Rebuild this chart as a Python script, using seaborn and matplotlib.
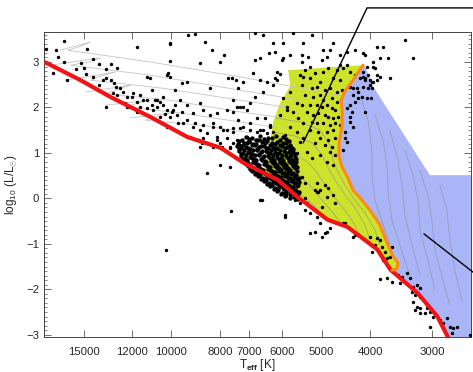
import matplotlib
matplotlib.use("Agg")
import matplotlib.pyplot as plt
import numpy as np
import pandas as pd
import seaborn as sns
from matplotlib.ticker import FixedLocator, MultipleLocator, NullLocator

# stars: (log10 Teff, log10 L/Lsun)
field_hot = [
    (4.252, 3.28), (4.216, 3.46), (4.232, 3.26), (4.228, 3.11), (4.216, 3.00), (4.238, 2.76),
    (4.210, 2.60), (4.170, 3.29), (4.068, 3.33), (4.002, 3.39), (4.002, 3.02), (4.182, 2.98),
    (4.158, 3.07), (4.146, 2.96), (4.132, 2.85), (4.122, 2.96), (4.108, 2.87), (4.192, 2.85),
    (4.176, 2.87), (4.172, 2.74), (4.158, 2.67), (4.138, 2.60), (4.132, 2.65), (4.122, 2.60),
    (4.116, 2.54), (4.102, 2.43), (4.112, 2.45), (4.146, 2.49), (4.148, 2.38), (4.128, 2.27),
    (4.118, 2.32), (4.108, 2.27), (4.096, 2.34), (4.088, 2.23), (4.076, 2.32), (4.062, 2.27),
    (4.092, 2.10), (4.082, 2.01), (4.068, 2.12), (4.062, 2.01), (4.048, 2.16), (4.038, 2.05),
    (4.028, 2.01), (4.032, 2.16), (4.022, 2.12), (4.016, 2.05), (4.008, 1.94), (4.012, 1.85),
    (3.998, 1.90), (3.988, 1.83), (4.002, 1.79), (4.132, 2.01), (4.048, 2.67), (4.042, 2.65),
    (4.008, 2.71), (4.002, 2.67), (3.992, 2.05), (3.942, 2.98), (3.932, 3.44), (3.918, 3.26),
    (3.952, 3.61), (3.966, 3.59), (4.002, 3.42), (3.902, 3.00), (3.894, 3.15), (3.886, 2.65),
    (3.878, 2.65), (3.870, 2.60), (3.866, 2.43), (3.922, 2.43), (3.968, 2.56), (3.978, 2.54),
    (3.992, 2.38), (4.006, 2.76), (3.968, 2.05), (3.942, 2.10), (3.982, 2.16), (3.996, 1.94),
    (3.978, 1.90), (3.956, 1.88), (3.936, 1.94), (3.922, 1.83), (3.908, 1.88), (3.888, 1.94),
    (3.876, 1.90), (3.862, 2.01), (3.968, 1.72), (3.952, 1.66), (3.936, 1.61), (3.916, 1.66),
    (3.902, 1.57), (3.888, 1.50), (3.876, 1.46), (3.928, 1.44), (3.908, 1.35), (3.942, 1.50),
    (3.986, 1.66), (4.008, 1.57), (4.022, 1.79), (4.036, 1.94), (4.028, 2.16), (4.016, 2.23),
    (4.038, 2.38), (4.056, 2.16), (3.928, 0.56), (3.902, 0.73), (3.882, 0.69), (3.942, 1.13),
    (3.928, 1.22), (3.916, 1.13), (3.902, 1.22), (3.882, 1.13), (3.868, 1.28), (4.048, 1.99),
    (4.088, 2.01), (4.068, 1.90), (4.078, 2.23), (3.976, 1.66), (3.956, 1.57), (3.916, 1.57),
    (3.896, 1.50), (3.876, 1.55), (3.856, 1.57), (3.842, 1.50), (3.962, 1.35), (3.936, 1.33),
    (3.908, 1.28), (3.888, 1.33), (3.848, 1.35), (3.938, 1.22), (3.918, 1.17), (3.898, 1.13),
    (3.882, 1.11), (3.862, 1.17), (3.842, 1.24), (3.822, 1.28), (3.808, 1.44), (3.822, 1.50),
    (3.802, 1.57), (3.880, -0.28), (4.010, -1.13), (3.822, -0.04), (3.772, -0.41),
]

field_upper = [
    (3.832, 3.64), (3.816, 3.59), (3.796, 3.42), (3.776, 3.42), (3.756, 3.64), (3.736, 3.42),
    (3.718, 3.59), (3.804, 3.20), (3.792, 3.22), (3.778, 3.04), (3.776, 3.09), (3.762, 3.15),
    (3.738, 3.15), (3.726, 3.11), (3.738, 3.00), (3.832, 3.04), (3.822, 3.09), (3.696, 3.26),
    (3.682, 3.26), (3.676, 3.42), (3.698, 3.04), (3.688, 3.11), (3.662, 3.15), (3.648, 3.22),
    (3.632, 3.26), (3.616, 3.20), (3.612, 3.15), (3.588, 3.33), (3.576, 3.33), (3.596, 3.00),
    (3.608, 2.89), (3.616, 2.78), (3.606, 2.71), (3.598, 2.56), (3.588, 2.60), (3.562, 2.65),
    (3.532, 3.48), (3.516, 3.09), (3.616, 2.67), (3.596, 2.89), (3.836, 2.76), (3.856, 2.56),
    (3.822, 2.60), (3.808, 2.56), (3.788, 2.78), (3.782, 2.74), (3.796, 2.49), (3.816, 2.34),
    (3.832, 2.23), (3.842, 2.10), (3.856, 2.01), (3.868, 2.01), (3.876, 2.16), (3.866, 1.72),
    (3.848, 1.94), (3.862, 1.55), (3.842, 1.66), (3.828, 1.77), (3.812, 1.77), (3.802, 1.61),
    (3.816, 1.50), (3.828, 1.46), (3.796, 1.46), (3.782, 1.83), (3.768, 2.01), (3.776, 1.22),
    (3.762, 0.95), (3.748, 1.00), (3.742, 1.24), (3.876, 1.22),
]

giants = [
    (3.736, 2.67), (3.722, 2.65), (3.702, 2.56), (3.696, 2.78), (3.686, 2.87), (3.668, 2.82),
    (3.656, 2.87), (3.648, 2.93), (3.676, 2.65), (3.662, 2.60), (3.738, 2.49), (3.718, 2.43),
    (3.708, 2.45), (3.692, 2.38), (3.682, 2.43), (3.668, 2.34), (3.658, 2.38), (3.732, 2.27),
    (3.716, 2.23), (3.702, 2.27), (3.696, 2.16), (3.678, 2.21), (3.668, 2.12), (3.722, 2.05),
    (3.708, 2.05), (3.698, 2.01), (3.688, 2.05), (3.678, 1.99), (3.672, 1.94), (3.728, 1.90),
    (3.716, 1.83), (3.706, 1.88), (3.692, 1.83), (3.686, 1.79), (3.676, 1.77), (3.666, 1.79),
    (3.718, 1.68), (3.708, 1.66), (3.696, 1.66), (3.682, 1.61), (3.672, 1.66), (3.736, 1.66),
    (3.746, 1.77), (3.756, 1.90), (3.748, 2.10), (3.738, 2.05), (3.762, 1.57), (3.722, 1.50),
    (3.706, 1.46), (3.688, 1.46), (3.676, 1.50), (3.702, 1.33), (3.686, 1.28), (3.672, 1.33),
    (3.712, 1.22), (3.692, 1.17), (3.678, 1.13), (3.736, 1.33), (3.748, 1.46), (3.768, 1.94),
    (3.776, 2.21), (3.762, 2.34), (3.772, 1.39), (3.758, 1.11), (3.728, 1.02), (3.702, 0.95),
    (3.682, 1.02), (3.672, 0.95), (3.718, 0.89), (3.688, 0.80), (3.676, 0.73), (3.662, 1.61),
    (3.648, 1.99), (3.636, 2.27), (3.628, 2.43), (3.642, 2.45), (3.612, 2.65), (3.602, 2.49),
    (3.626, 2.21), (3.638, 1.90), (3.652, 1.46), (3.648, 1.24), (3.642, 1.68), (3.662, 2.93),
    (3.722, 2.89), (3.732, 2.82), (3.712, 2.76), (3.742, 2.71), (3.788, 2.60), (3.792, 2.65),
    (3.642, 2.78), (3.632, 2.71), (3.622, 2.65), (3.612, 2.60), (3.602, 2.60), (3.596, 2.56),
    (3.616, 2.45), (3.606, 2.43), (3.636, 2.43), (3.626, 2.34), (3.618, 2.23), (3.608, 2.21),
    (3.632, 2.12), (3.642, 2.05), (3.612, 1.90), (3.642, 1.79), (3.636, 1.57), (3.652, 1.33),
    (3.656, 1.06), (3.588, 2.71), (3.582, 2.67), (3.592, 2.87), (3.582, 3.09), (3.566, 3.09),
    (3.598, 2.43), (3.600, 2.21),
]

clump = [
    (3.850, 1.36), (3.838, 1.32), (3.822, 1.38), (3.806, 1.33), (3.790, 1.37), (3.776, 1.34),
    (3.864, 1.27), (3.855, 1.22), (3.846, 1.25), (3.836, 1.20), (3.827, 1.28), (3.818, 1.23),
    (3.808, 1.26), (3.799, 1.21), (3.788, 1.25), (3.776, 1.22), (3.765, 1.27),
    (3.868, 1.16), (3.860, 1.11), (3.851, 1.14), (3.842, 1.09), (3.833, 1.17), (3.824, 1.12),
    (3.815, 1.15), (3.806, 1.10), (3.797, 1.14), (3.788, 1.11), (3.778, 1.16), (3.768, 1.12),
    (3.760, 1.14),
    (3.864, 1.05), (3.856, 1.00), (3.847, 1.03), (3.838, 0.98), (3.829, 1.06), (3.820, 1.01),
    (3.811, 1.04), (3.802, 0.99), (3.793, 1.03), (3.784, 1.00), (3.775, 1.05), (3.765, 1.01),
    (3.756, 1.03),
    (3.861, 0.94), (3.852, 0.89), (3.843, 0.92), (3.834, 0.87), (3.825, 0.95), (3.816, 0.90),
    (3.807, 0.93), (3.798, 0.88), (3.789, 0.92), (3.780, 0.89), (3.771, 0.94), (3.762, 0.90),
    (3.753, 0.92),
    (3.855, 0.83), (3.846, 0.78), (3.837, 0.81), (3.828, 0.76), (3.819, 0.84), (3.810, 0.79),
    (3.801, 0.82), (3.792, 0.77), (3.783, 0.81), (3.774, 0.78), (3.765, 0.83), (3.756, 0.79),
    (3.750, 0.81),
    (3.847, 0.72), (3.838, 0.67), (3.829, 0.70), (3.820, 0.65), (3.811, 0.73), (3.802, 0.68),
    (3.793, 0.71), (3.784, 0.66), (3.775, 0.70), (3.766, 0.67), (3.757, 0.72), (3.748, 0.68),
    (3.838, 0.61), (3.829, 0.56), (3.820, 0.59), (3.811, 0.54), (3.802, 0.62), (3.793, 0.57),
    (3.784, 0.60), (3.775, 0.55), (3.766, 0.59), (3.757, 0.56), (3.748, 0.60),
    (3.826, 0.50), (3.817, 0.45), (3.808, 0.48), (3.799, 0.43), (3.790, 0.51), (3.781, 0.46),
    (3.772, 0.49), (3.763, 0.44), (3.754, 0.48), (3.745, 0.45),
    (3.814, 0.39), (3.805, 0.34), (3.796, 0.37), (3.787, 0.32), (3.778, 0.40), (3.769, 0.35),
    (3.760, 0.38), (3.751, 0.33), (3.744, 0.37),
    (3.802, 0.28), (3.793, 0.23), (3.784, 0.26), (3.775, 0.21), (3.766, 0.29), (3.757, 0.24),
    (3.748, 0.27),
    (3.788, 0.17), (3.779, 0.12), (3.770, 0.15), (3.761, 0.10), (3.752, 0.18), (3.745, 0.13),
    (3.772, 0.06), (3.763, 0.01), (3.754, 0.04), (3.746, -0.01),
]

clump_core = [
    (3.858, 1.29), (3.844, 1.31), (3.830, 1.28), (3.814, 1.30), (3.798, 1.32), (3.783, 1.29),
    (3.770, 1.31),
    (3.866, 1.20), (3.857, 1.17), (3.848, 1.21), (3.839, 1.18), (3.830, 1.19), (3.821, 1.16),
    (3.812, 1.21), (3.803, 1.18), (3.793, 1.20), (3.782, 1.17), (3.771, 1.21), (3.762, 1.18),
    (3.864, 1.09), (3.855, 1.06), (3.846, 1.10), (3.837, 1.07), (3.828, 1.08), (3.819, 1.05),
    (3.810, 1.10), (3.801, 1.07), (3.792, 1.09), (3.783, 1.06), (3.773, 1.10), (3.763, 1.07),
    (3.756, 1.09),
    (3.860, 0.98), (3.851, 0.95), (3.842, 0.99), (3.833, 0.96), (3.824, 0.97), (3.815, 0.94),
    (3.806, 0.99), (3.797, 0.96), (3.788, 0.98), (3.779, 0.95), (3.770, 0.99), (3.760, 0.96),
    (3.752, 0.98),
    (3.857, 0.87), (3.848, 0.84), (3.839, 0.88), (3.830, 0.85), (3.821, 0.86), (3.812, 0.83),
    (3.803, 0.88), (3.794, 0.85), (3.785, 0.87), (3.776, 0.84), (3.767, 0.88), (3.758, 0.85),
    (3.750, 0.87),
    (3.851, 0.76), (3.842, 0.73), (3.833, 0.77), (3.824, 0.74), (3.815, 0.75), (3.806, 0.72),
    (3.797, 0.77), (3.788, 0.74), (3.779, 0.76), (3.770, 0.73), (3.761, 0.77), (3.752, 0.74),
    (3.843, 0.65), (3.834, 0.62), (3.825, 0.66), (3.816, 0.63), (3.807, 0.64), (3.798, 0.61),
    (3.789, 0.66), (3.780, 0.63), (3.771, 0.65), (3.762, 0.62), (3.753, 0.66),
    (3.832, 0.54), (3.823, 0.51), (3.814, 0.55), (3.805, 0.52), (3.796, 0.53), (3.787, 0.50),
    (3.778, 0.55), (3.769, 0.52), (3.760, 0.54), (3.751, 0.51),
    (3.820, 0.43), (3.811, 0.40), (3.802, 0.44), (3.793, 0.41), (3.784, 0.42), (3.775, 0.39),
    (3.766, 0.44), (3.757, 0.41), (3.748, 0.43),
    (3.808, 0.32), (3.799, 0.29), (3.790, 0.33), (3.781, 0.30), (3.772, 0.31), (3.763, 0.28),
    (3.754, 0.33), (3.746, 0.30),
    (3.795, 0.21), (3.786, 0.18), (3.777, 0.22), (3.768, 0.19), (3.759, 0.20), (3.750, 0.17),
    (3.780, 0.10), (3.771, 0.07), (3.762, 0.11), (3.753, 0.08), (3.746, 0.09),
]

dwarfs = [
    (3.798, 0.29), (3.788, 0.18), (3.776, 0.12), (3.762, 0.07), (3.752, -0.04), (3.742, -0.10),
    (3.732, -0.26), (3.722, -0.32), (3.708, -0.41), (3.702, -0.54), (3.688, -0.74), (3.692, -0.76),
    (3.772, -0.37), (3.818, -0.04), (3.708, 0.14), (3.702, 0.18), (3.688, 0.03), (3.676, 0.07),
    (3.652, -0.54), (3.632, -0.81), (3.612, -0.92), (3.592, -1.03), (3.598, -1.18), (3.582, -0.92),
    (3.578, -1.07), (3.572, -1.18), (3.568, -1.31), (3.558, -1.07), (3.576, -1.36), (3.582, -1.77),
    (3.558, -1.84), (3.568, -1.75), (3.546, -1.69), (3.538, -1.73), (3.536, -1.80), (3.528, -1.64),
    (3.522, -1.75), (3.542, -1.86), (3.516, -1.95), (3.508, -1.91), (3.502, -1.97), (3.518, -2.06),
    (3.512, -2.13), (3.502, -2.17), (3.516, -2.28), (3.508, -2.39), (3.512, -2.46), (3.502, -2.41),
    (3.488, -2.41), (3.482, -2.50), (3.492, -2.52), (3.476, -2.61), (3.502, -2.52), (3.482, -2.83),
    (3.462, -2.68), (3.456, -2.74), (3.448, -2.63), (3.442, -2.83), (3.436, -2.85), (3.428, -2.83),
    (3.438, -2.96), (3.402, -3.01), (3.722, -0.76), (3.712, -0.74), (3.698, -0.85), (3.682, -0.65),
    (3.712, 0.18), (3.706, 0.14), (3.692, 0.29), (3.686, 0.23), (3.672, -0.10), (3.698, -0.19),
    (3.732, 0.01), (3.728, -0.10), (3.656, -0.54), (3.636, -0.85), (3.602, -0.85), (3.588, -0.87),
    (3.562, -1.29), (3.576, -1.31), (3.708, 0.34), (3.738, 0.47), (3.732, 0.34),
]

# zero-age main sequence (red)
zams = [
    (4.254, 3.00), (4.182, 2.60), (4.122, 2.23), (4.042, 1.79), (3.968, 1.35), (3.901, 1.11),
    (3.855, 0.78), (3.815, 0.56), (3.787, 0.41), (3.747, 0.03), (3.687, -0.47), (3.647, -0.63),
    (3.607, -0.96), (3.587, -1.13), (3.561, -1.57), (3.507, -2.08), (3.467, -2.60), (3.445, -3.07),
    (3.431, -3.29),
]

# orange boundary
boundary = [
    (3.616, 2.93), (3.636, 2.60), (3.652, 2.36), (3.660, 2.16), (3.658, 1.94), (3.658, 1.61),
    (3.664, 1.22), (3.664, 0.91), (3.658, 0.69), (3.648, 0.49), (3.636, 0.18), (3.618, -0.04),
    (3.602, -0.26), (3.582, -0.59), (3.568, -0.98), (3.556, -1.27), (3.546, -1.42), (3.548, -1.55),
    (3.558, -1.58),
]

yellow_top_left = [(3.766, 2.82)]
yellow_left_edge = [(3.815, 0.56), (3.810, 0.84), (3.802, 1.28), (3.796, 1.68), (3.782, 2.10),
                    (3.762, 2.47)]
blue_right_edge = [(3.380, -3.40), (3.380, 0.51), (3.482, 0.51), (3.598, 2.50), (3.612, 2.91)]

evol_tracks = [
    [(4.222, 3.26), (4.162, 3.44), (4.186, 3.33), (4.208, 3.26), (4.042, 3.00), (3.862, 2.67),
     (3.742, 2.43), (3.662, 2.27)],
    [(4.242, 2.93), (4.142, 3.09), (4.166, 3.00), (4.202, 2.93), (4.042, 2.71), (3.862, 2.38),
     (3.742, 2.16)],
    [(4.212, 2.60), (4.112, 2.78), (4.142, 2.69), (4.162, 2.60), (4.022, 2.43), (3.862, 2.16),
     (3.762, 1.99)],
    [(4.172, 2.34), (4.082, 2.49), (4.112, 2.38), (4.132, 2.30), (4.002, 2.16), (3.862, 1.90),
     (3.772, 1.77)],
    [(4.132, 2.05), (4.042, 2.16), (4.072, 2.08), (4.092, 2.01), (3.982, 1.88), (3.862, 1.68),
     (3.782, 1.55)],
    [(4.082, 1.77), (4.002, 1.88), (4.032, 1.79), (4.052, 1.72), (3.942, 1.61), (3.842, 1.44)],
]

pms_tracks = [
    [(3.792, 1.77), (3.742, 1.68), (3.702, 1.50), (3.682, 1.17), (3.676, 0.84), (3.666, 0.58),
     (3.652, 0.29), (3.632, -0.04), (3.612, -0.32), (3.592, -0.70), (3.582, -1.03)],
    [(3.798, 1.46), (3.752, 1.37), (3.718, 1.22), (3.698, 0.95), (3.686, 0.67), (3.672, 0.40),
     (3.652, 0.07), (3.632, -0.21), (3.612, -0.59), (3.602, -0.92)],
    [(3.806, 1.11), (3.762, 1.02), (3.732, 0.84), (3.712, 0.62), (3.696, 0.36), (3.676, 0.07),
     (3.656, -0.21), (3.636, -0.52), (3.622, -0.81)],
    [(3.812, 0.78), (3.772, 0.67), (3.742, 0.49), (3.718, 0.23), (3.698, -0.04), (3.676, -0.32),
     (3.656, -0.61)],
    [(3.792, 0.36), (3.752, 0.18), (3.726, -0.04), (3.702, -0.30), (3.682, -0.52)],
    [(3.622, 2.27), (3.606, 1.72), (3.598, 1.06), (3.598, 0.51), (3.592, -0.04), (3.572, -0.70),
     (3.552, -1.36)],
    [(3.592, 1.83), (3.576, 1.28), (3.568, 0.73), (3.566, 0.18), (3.558, -0.48), (3.536, -1.25),
     (3.522, -1.69)],
    [(3.562, 1.50), (3.546, 0.84), (3.538, 0.29), (3.532, -0.37), (3.518, -1.03), (3.502, -1.69)],
    [(3.532, 1.06), (3.516, 0.51), (3.506, -0.04), (3.502, -0.70), (3.486, -1.36), (3.472, -2.02)],
    [(3.502, 0.62), (3.486, 0.07), (3.478, -0.48), (3.472, -1.14), (3.456, -1.80), (3.442, -2.35)],
    [(3.462, 0.29), (3.448, -0.26), (3.442, -0.92), (3.432, -1.58), (3.418, -2.24)],
]

pointer_lines = [
    [(3.736, 1.22), (3.608, 4.19), (3.382, 4.19)],
    [(3.494, -0.78), (3.382, -1.74)],
]

x_ticks = [15000, 12000, 10000, 8000, 7000, 6000, 5000, 4000, 3000]


def xy(points):
    arr = np.array(points)
    return 10 ** arr[:, 0], arr[:, 1]


sns.set_style("ticks")
plt.rcParams['font.family'] = ['Liberation Sans', 'DejaVu Sans']
plt.rcParams['mathtext.fontset'] = 'custom'
plt.rcParams['mathtext.rm'] = 'Liberation Sans'
plt.rcParams['mathtext.it'] = 'Liberation Sans'
plt.rcParams['mathtext.bf'] = 'Liberation Sans:bold'

fig = plt.figure(figsize=(4.73, 3.72), dpi=100)
ax = fig.add_axes([44 / 473, 35 / 372, 427 / 473, 305 / 372])
ax.set_xscale('log')

# shaded regions
red_below_tip = [p for p in zams if p[0] < 3.56]
blue_poly = boundary + red_below_tip + blue_right_edge
bx, by = xy(blue_poly)
ax.fill(bx, by, color='#a9b5f6', lw=0, zorder=1)

red_above_tip = [p for p in zams if 3.56 <= p[0] <= 3.815][::-1]
yellow_poly = yellow_top_left + boundary + red_above_tip + yellow_left_edge
yx, yy = xy(yellow_poly)
ax.fill(yx, yy, color='#cde22b', lw=0, zorder=1)

for tr in evol_tracks:
    tx, ty = xy(tr)
    ax.plot(tx, ty, color='#c4c4c4', lw=0.6, zorder=2)
for tr in pms_tracks:
    tx, ty = xy(tr)
    ax.plot(tx, ty, color='#8f8f99', lw=0.5, alpha=0.8, zorder=2)

groups = {'field_hot': field_hot, 'field_upper': field_upper, 'giants': giants,
          'clump': clump + clump_core, 'dwarfs': dwarfs}
frames = []
for name, pts in groups.items():
    gx, gy = xy(pts)
    frames.append(pd.DataFrame({'teff': gx, 'logl': gy, 'group': name}))
stars = pd.concat(frames, ignore_index=True)

sns.scatterplot(data=stars[stars.group != 'clump'], x='teff', y='logl', color='black',
                s=6, linewidth=0, ax=ax, zorder=3, legend=False)
sns.scatterplot(data=stars[stars.group == 'clump'], x='teff', y='logl', color='black',
                s=10, linewidth=0, ax=ax, zorder=3, legend=False)

zx, zy = xy(zams)
ax.plot(zx, zy, color='#f01414', lw=3, zorder=4, solid_capstyle='butt')
ox, oy = xy(boundary)
ax.plot(ox, oy, color='#ff8a12', lw=2.2, zorder=4)

for ln in pointer_lines:
    lx, ly = xy(ln)
    ax.plot(lx, ly, color='black', lw=1.0, zorder=5, clip_on=False)

ax.set_xlim(18000, 2510)
ax.set_ylim(-3.05, 3.66)

ax.xaxis.set_major_locator(FixedLocator(x_ticks))
ax.xaxis.set_minor_locator(NullLocator())
ax.set_xticklabels([str(t) for t in x_ticks])
ax.yaxis.set_major_locator(MultipleLocator(1))
ax.yaxis.set_minor_locator(MultipleLocator(0.1))

ax.tick_params(axis='both', which='major', direction='in', top=True, right=True,
               length=5, width=0.6, color='#555555', labelsize=8.2)
ax.tick_params(axis='both', which='minor', direction='in', top=True, right=True,
               length=2.5, width=0.5, color='#555555')
ax.tick_params(axis='x', pad=7)
ax.tick_params(axis='y', pad=3.5)
for sp in ax.spines.values():
    sp.set_linewidth(0.7)
    sp.set_color('#444444')

ax.set_xlabel(r'T$_{\mathbf{eff}}$ [K]', fontsize=8.5)
ax.set_ylabel(r'log$_{10}$ (L/L$_{\odot}$)', fontsize=8.5)
ax.xaxis.set_label_coords(0.5, -0.066)
ax.yaxis.set_label_coords(-0.058, 0.5)

fig.savefig('out.png', dpi=100)
